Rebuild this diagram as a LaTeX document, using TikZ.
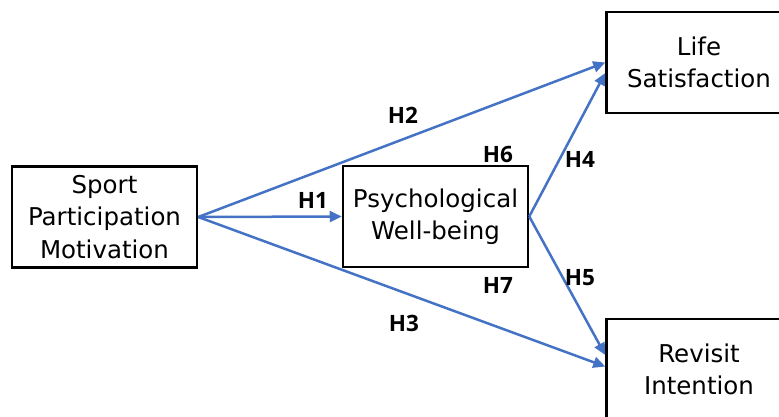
\documentclass[tikz,border=0pt]{standalone}
\usepackage{fontspec}
\setmainfont{DejaVu Sans}
\newfontfamily\hypfont{Open Sans}
\usetikzlibrary{calc,arrows.meta}
\definecolor{pathblue}{HTML}{4472C4}
\tikzset{
	varbox/.style={draw=black, line width=2.5pt, align=center, minimum width=185pt, minimum height=101pt, inner sep=0pt, font=\fontsize{24.5}{32.5}\selectfont},
	hyppath/.style={draw=pathblue, line width=2.5pt, -{Triangle[length=12pt,width=11pt]}},
	hyp/.style={font=\hypfont\fontsize{22.5}{24}\selectfont\bfseries}
}

\begin{document}
\begin{tikzpicture}[x=1pt, y=-1pt]
			%%%%% START %%%%%
			
			\useasboundingbox (0, 0) rectangle (779, 416);
			\clip (0, 0) rectangle (779, 416);
			
			\node[varbox] (spm) at (104.5, 217) {Sport\\Participation\\Motivation};
			\node[varbox] (pwb) at (435.5, 216.5) {Psychological\\Well-being};
			\node[varbox] (life) at (699, 62.5) {Life\\Satisfaction};
			\node[varbox] (rev) at (699, 369.5) {Revisit\\Intention};
			
			\draw[hyppath] (spm.east) -- (pwb.west);
			\draw[hyppath] (spm.east) -- (life.west);
			\draw[hyppath] (spm.east) -- ($(rev.west)+(0, -3)$);
			\draw[hyppath] (pwb.east) -- ($(life.west)+(0, 10.5)$);
			\draw[hyppath] (pwb.east) -- ($(rev.west)+(0, -14.5)$);
			
			\node[hyp] (h1) at (313, 200) {H1};
			\node[hyp] (h2) at (403, 115) {H2};
			\node[hyp] (h3) at (404, 323) {H3};
			\node[hyp] (h4) at (580, 159) {H4};
			\node[hyp] (h5) at (580, 278) {H5};
			\node[hyp] (h6) at (498, 154) {H6};
			\node[hyp] (h7) at (498, 285) {H7};
			
			%%%%% END %%%%%
		\end{tikzpicture}
\end{document}
